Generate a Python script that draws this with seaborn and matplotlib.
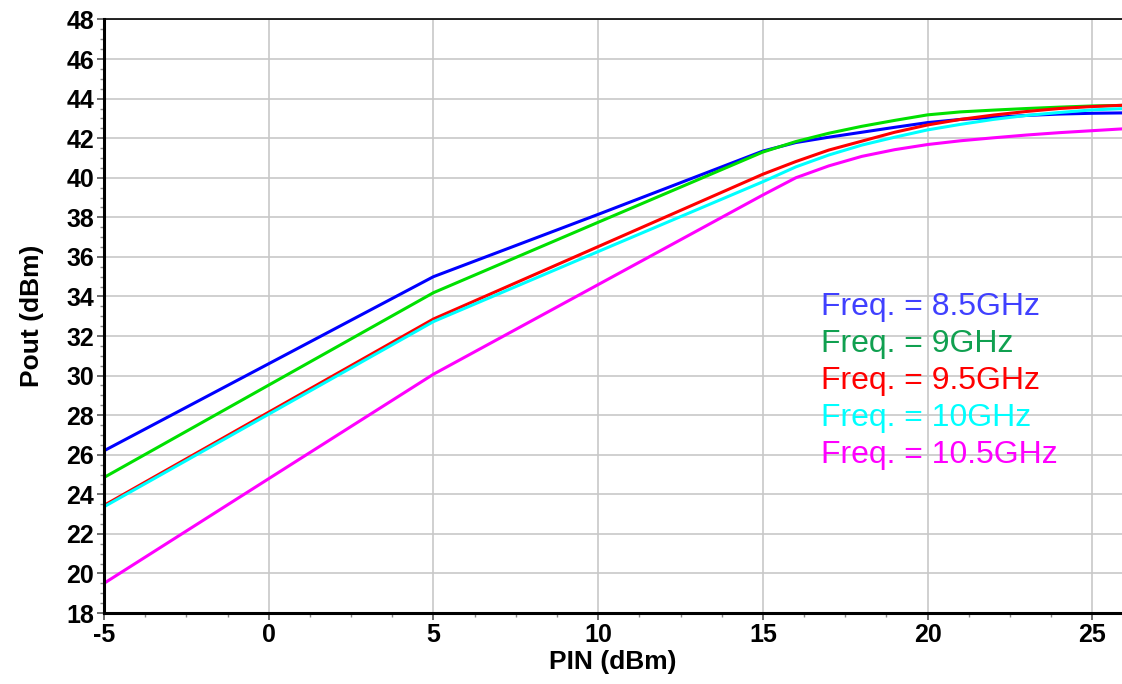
import numpy as np
import pandas as pd
import matplotlib
matplotlib.use("Agg")
import matplotlib.pyplot as plt
import seaborn as sns
from matplotlib.ticker import MultipleLocator

pin = [-5, 0, 5, 10, 15, 16, 17, 18, 19, 20, 21, 22, 23, 24, 25, 26]
pout_85 = [26.2, 30.6, 35.0, 38.15, 41.35, 41.78, 42.05, 42.3, 42.55, 42.79, 42.95, 43.05, 43.15, 43.22, 43.26, 43.28]
pout_90 = [24.85, 29.52, 34.19, 37.75, 41.3, 41.83, 42.25, 42.6, 42.9, 43.18, 43.33, 43.42, 43.5, 43.57, 43.63, 43.66]
pout_95 = [23.44, 28.15, 32.86, 36.52, 40.18, 40.82, 41.4, 41.85, 42.3, 42.67, 42.95, 43.17, 43.35, 43.5, 43.6, 43.67]
pout_100 = [23.37, 28.05, 32.73, 36.27, 39.8, 40.55, 41.15, 41.65, 42.05, 42.42, 42.7, 42.95, 43.15, 43.3, 43.43, 43.5]
pout_105 = [19.5, 24.79, 30.07, 34.6, 39.13, 40.0, 40.6, 41.08, 41.42, 41.68, 41.87, 42.02, 42.16, 42.28, 42.38, 42.48]

labels = ["Freq. = 8.5GHz", "Freq. = 9GHz", "Freq. = 9.5GHz", "Freq. = 10GHz", "Freq. = 10.5GHz"]
line_colors = ["#0000ff", "#00e000", "#ff0000", "#00ffff", "#ff00ff"]
text_colors = ["#4040ff", "#10a050", "#ff0000", "#00ffff", "#ff00ff"]

series = [pout_85, pout_90, pout_95, pout_100, pout_105]
df = pd.concat([pd.DataFrame({"PIN": pin, "Pout": s, "Freq": lab}) for s, lab in zip(series, labels)],
               ignore_index=True)

sns.set_theme(style="white")
plt.rcParams['font.family'] = ['Liberation Sans', 'DejaVu Sans']
plt.rcParams['axes.unicode_minus'] = False

fig = plt.figure(figsize=(11.22, 6.84), dpi=100)
ax = fig.add_axes([0.0927, 0.1038, 1.0 - 0.0927, 0.9715 - 0.1038])

sns.lineplot(data=df, x="PIN", y="Pout", hue="Freq", palette=dict(zip(labels, line_colors)),
             linewidth=2.2, ax=ax, legend=False, sort=False, estimator=None)

ax.set_xlim(-5, 25.9)
ax.set_ylim(18, 48)
ax.xaxis.set_major_locator(MultipleLocator(5))
ax.xaxis.set_minor_locator(MultipleLocator(1.25))
ax.yaxis.set_major_locator(MultipleLocator(2))
ax.yaxis.set_minor_locator(MultipleLocator(0.5))
ax.grid(True, which="major", color="#c8c8c8", linewidth=1.2)
ax.set_axisbelow(True)

for side in ["left", "bottom"]:
    ax.spines[side].set_color("black")
    ax.spines[side].set_linewidth(2.2)
ax.spines["top"].set_color("black")
ax.spines["top"].set_linewidth(1.2)
ax.spines["right"].set_visible(False)

ax.tick_params(axis="both", which="major", direction="out", length=5, width=1.2, color="#555555",
               labelsize=18, labelcolor="black", pad=2, left=True, bottom=True)
ax.tick_params(axis="both", which="minor", direction="out", length=3, width=1, color="#888888",
               left=True, bottom=True)
for lab in ax.get_xticklabels() + ax.get_yticklabels():
    lab.set_fontweight("bold")

ax.set_xlabel("PIN (dBm)", fontsize=19, fontweight="bold", color="black", labelpad=2)
ax.set_ylabel("Pout (dBm)", fontsize=19, fontweight="bold", color="black", labelpad=16)

y0 = 307
for i, (lab, c) in enumerate(zip(labels, text_colors)):
    fig.text(821 / 1122, 1 - (y0 + i * 37) / 684, lab, color=c, fontsize=23,
             ha="left", va="center")

fig.savefig("out.png", dpi=100)
